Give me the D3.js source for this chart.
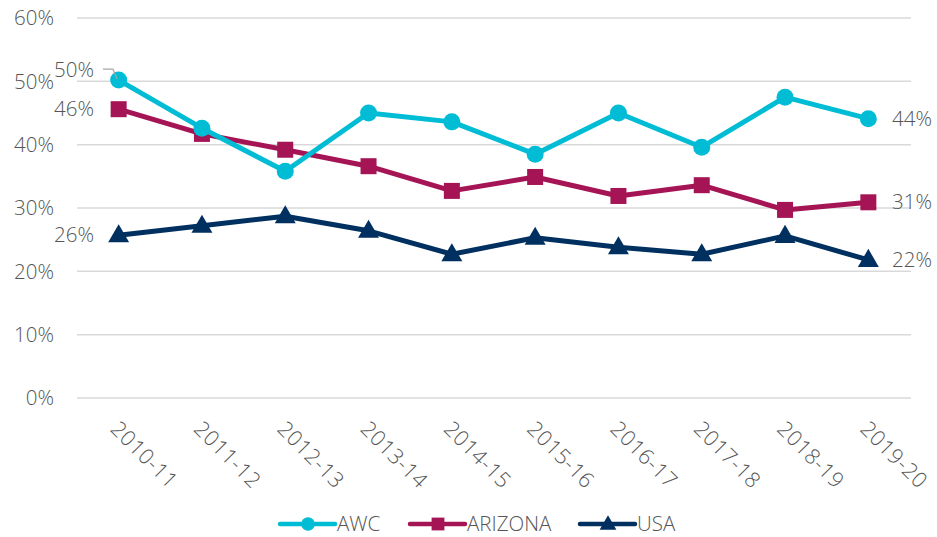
<!DOCTYPE html>
<html>
<head>
<meta charset="utf-8">
<script src="https://cdn.jsdelivr.net/npm/d3@7"></script>
<style>
body{margin:0;background:#fff}
text{font-family:'Open Sans',sans-serif;font-weight:300;fill:#555}
</style>
</head>
<body>
<svg id="chart" width="937" height="537"></svg>
<script>
var years = ['2010-11','2011-12','2012-13','2013-14','2014-15','2015-16','2016-17','2017-18','2018-19','2019-20']
var awc     = [50.2,42.6,35.8,45.0,43.6,38.5,45.0,39.6,47.5,44.1]
var arizona = [45.6,41.7,39.2,36.6,32.7,34.9,31.9,33.6,29.7,30.9]
var usa     = [25.7,27.2,28.7,26.4,22.7,25.3,23.8,22.7,25.6,21.8]
var yTicks  = [0,10,20,30,40,50,60]

var series = [
	{name:'AWC',     values:awc,     color:'#00BCD4', shape:'circle'},
	{name:'ARIZONA', values:arizona, color:'#A51454', shape:'square'},
	{name:'USA',     values:usa,     color:'#00305F', shape:'triangle'}
]

var svg = d3.select('#chart')
var x = d3.scalePoint().domain(years).range([77,910]).padding(0.5)
var y = d3.scaleLinear().domain([0,60]).range([398,18])
var fs = '20.5px'

// grid
var grid = svg.append('g').attr('id','grid')
yTicks.forEach(function(t){
	grid.append('line').attr('x1',77).attr('x2',911)
		.attr('y1',y(t)).attr('y2',y(t))
		.style('stroke','#d9d9d9').style('stroke-width',1.5)
	grid.append('text').text(t+'%')
		.attr('x',54).attr('y',y(t)).attr('dy','0.35em')
		.attr('text-anchor','end').style('font-size',fs)
})

// x labels
years.forEach(function(e){
	svg.append('text').text(e)
		.attr('transform','translate('+(x(e)-4)+',425) rotate(45)')
		.attr('dy','0.35em')
		.style('font-size','21.5px').style('letter-spacing','0.5px')
})

function marker(g,shape,cx,cy,color,k){
	k = k || 1
	if(shape=='circle'){
		g.append('circle').attr('cx',cx).attr('cy',cy).attr('r',8.5*k).style('fill',color)
	} else if(shape=='square'){
		g.append('rect').attr('x',cx-8*k).attr('y',cy-8*k).attr('width',16*k).attr('height',16*k).style('fill',color)
	} else {
		g.append('path').attr('d',d3.symbol().type(d3.symbolTriangle).size(190*k*k)())
			.attr('transform','translate('+cx+','+(cy+1)+')').style('fill',color)
	}
}

var lines = svg.append('g').attr('id','lines')
series.slice().reverse().forEach(function(se){
	var g = lines.append('g').attr('id',se.name)
	g.append('path').datum(se.values)
		.attr('d',d3.line().x(function(d,i){return x(years[i])}).y(function(d){return y(d)}))
		.style('fill','none').style('stroke',se.color).style('stroke-width',5)
		.style('stroke-linejoin','round')
	se.values.forEach(function(v,i){ marker(g,se.shape,x(years[i]),y(v),se.color) })
})

// data labels at ends
var labels = svg.append('g').attr('id','labels')
series.forEach(function(se){
	var first = se.values[0], last = se.values[se.values.length-1]
	var fy = y(first)
	if(se.name=='AWC') fy = y(first) - 10
	labels.append('text').text(Math.round(first)+'%')
		.attr('x',94).attr('y',fy).attr('dy','0.35em')
		.attr('text-anchor','end').style('font-size',fs)
	labels.append('text').text(Math.round(last)+'%')
		.attr('x',892).attr('y',y(last)).attr('dy','0.35em')
		.style('font-size',fs)
})
// leader line for AWC first label
labels.append('path')
	.attr('d','M103,'+(y(awc[0])-11)+'H113L117,'+(y(awc[0])-1))
	.style('fill','none').style('stroke','#a6a6a6').style('stroke-width',1.2)

// legend
var legend = svg.append('g').attr('id','legend')
var legX = [280,410,580]
series.forEach(function(se,i){
	var lg = legend.append('g')
	lg.append('line').attr('x1',legX[i]).attr('x2',legX[i]+55)
		.attr('y1',524).attr('y2',524)
		.style('stroke',se.color).style('stroke-width',4.5).style('stroke-linecap','round')
	marker(lg,se.shape,legX[i]+28,524,se.color,0.8)
	lg.append('text').text(se.name)
		.attr('x',legX[i]+57).attr('y',524).attr('dy','0.35em')
		.style('font-size',fs)
})
</script>
</body>
</html>
